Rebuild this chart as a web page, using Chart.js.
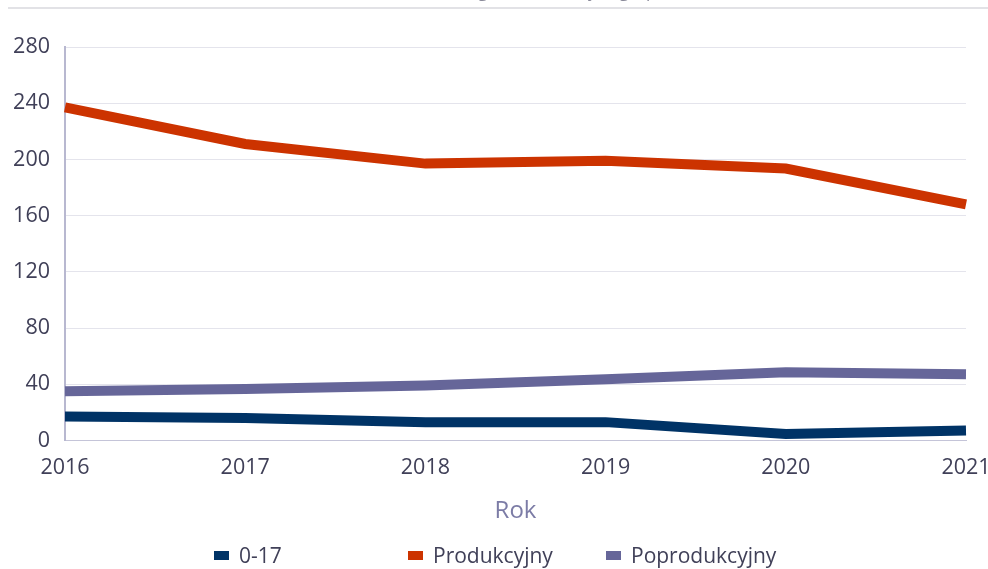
<!DOCTYPE html>
<html>
<head>
<meta charset="utf-8">
<script src="https://cdn.jsdelivr.net/npm/chart.js@4/dist/chart.umd.min.js"></script>
<style>
  body { margin: 0; background: #fff; font-family: "Open Sans", sans-serif; }
  #wrap { position: relative; width: 988px; height: 569px; overflow: hidden; }
  #title { position: absolute; left: 0; right: 0; top: -21px; text-align: center; font-size: 17px; color: #8a8a9a; }
  #topline { position: absolute; left: 8px; right: 0; top: 7px; height: 2px; background: #e2e2e6; }
  #legend { position: absolute; top: 541px; left: 0; width: 988px; height: 28px; font-size: 21px; color: #404058; }
  .item { position: absolute; top: 0; white-space: nowrap; }
  .box { display: inline-block; width: 15px; height: 9px; margin-right: 10px; vertical-align: middle; position: relative; top: -2px; }
</style>
</head>
<body>
<div id="wrap">
  <div id="title">Struktura ludności według ekonomicznych grup wieku</div>
  <div id="topline"></div>
  <canvas id="chart" width="988" height="569"></canvas>
  <div id="legend"></div>
</div>
<script>
// dane
const years = ['2016', '2017', '2018', '2019', '2020', '2021'];
const preProd = [17, 16, 13, 13, 4.5, 7];
const prod = [237, 211, 197, 199, 193.5, 168];
const postProd = [35, 36.5, 39, 43.5, 48.5, 47];
const seriesNames = ['0-17', 'Produkcyjny', 'Poprodukcyjny'];
const seriesColors = ['#003366', '#cc3300', '#666699'];
const legendX = [214, 408, 606];

const textColor = '#404058';

const ctx = document.getElementById('chart').getContext('2d');
const chart = new Chart(ctx, {
    type: 'line',
    data: {
        labels: years,
        datasets: [preProd, prod, postProd].map((vals, i) => ({
            label: seriesNames[i],
            data: vals,
            borderColor: seriesColors[i],
            backgroundColor: seriesColors[i],
            borderWidth: 10,
            pointRadius: 0,
            tension: 0,
            borderCapStyle: 'butt'
        }))
    },
    options: {
        responsive: false,
        animation: false,
        layout: { padding: { top: 47, right: 22, bottom: 39, left: 0 } },
        plugins: {
            legend: { display: false },
            tooltip: { enabled: false }
        },
        scales: {
            x: {
                offset: false,
                afterFit: s => { s.paddingLeft = 0; s.paddingRight = 0; },
                grid: { display: false, drawTicks: false },
                border: { color: '#c4c4d8', width: 1 },
                ticks: { color: textColor, font: { family: 'Open Sans', size: 21.5 }, padding: 15, maxRotation: 0 },
                title: {
                    display: true,
                    text: 'Rok',
                    color: '#7c7ca6',
                    font: { family: 'Open Sans', size: 24 },
                    padding: { top: 1, bottom: 4 }
                }
            },
            y: {
                min: 0,
                max: 280,
                afterFit: s => { s.width = 65; },
                grid: { color: '#e4e4ec', lineWidth: 1, drawTicks: false },
                border: { color: '#b8b8d0', width: 2 },
                ticks: { stepSize: 40, color: textColor, font: { family: 'Open Sans', size: 21.5 }, padding: 15 }
            }
        }
    }
});

// legenda w HTML (nierówne odstępy jak w oryginale)
const legend = document.getElementById('legend');
chart.data.datasets.forEach((ds, i) => {
    const it = document.createElement('div');
    it.className = 'item';
    it.style.left = legendX[i] + 'px';
    it.innerHTML = '<span class="box" style="background:' + ds.borderColor + '"></span>' + ds.label;
    legend.appendChild(it);
});
</script>
</body>
</html>
